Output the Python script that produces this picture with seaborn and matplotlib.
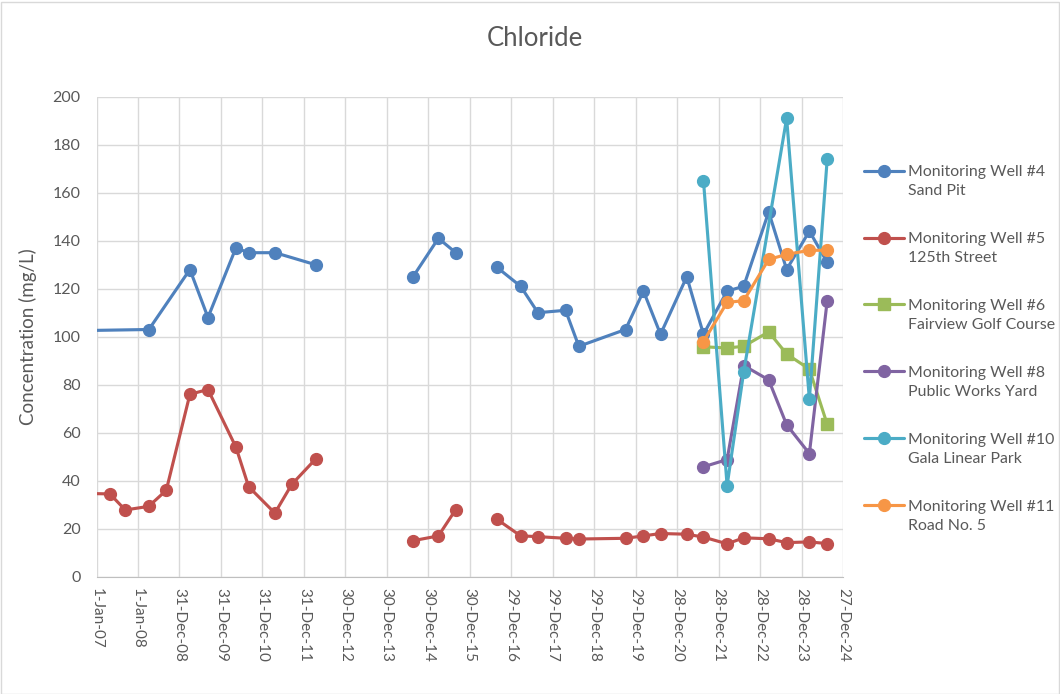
import numpy as np
import pandas as pd
import matplotlib
matplotlib.use('Agg')
import matplotlib.pyplot as plt
from matplotlib.lines import Line2D
from matplotlib.patches import Rectangle
from matplotlib.legend_handler import HandlerLine2D
import seaborn as sns

# ------------------------------------------------ data ------------------------------------------------
# None = gap in the series (line is broken there)
mw4_dates = ['2006-07-01', '2008-04-06', '2009-04-02', '2009-09-08', '2010-05-12', '2010-09-01', '2011-04-22', '2012-04-12',
             None,
             '2014-08-18', '2015-03-29', '2015-08-29',
             None,
             '2016-08-23', '2017-03-22', '2017-08-21', '2018-04-21', '2018-08-16', '2019-10-01', '2020-03-07', '2020-08-04',
             '2021-03-23', '2021-08-17', '2022-03-13', '2022-08-06', '2023-03-14', '2023-08-19', '2024-03-06', '2024-08-10']
mw4_vals = [102.5, 103, 128, 108, 137, 135, 135, 130,
            None,
            125, 141, 135,
            None,
            129, 121, 110, 111, 96, 103, 119, 101,
            125, 101, 119, 121, 152, 128, 144, 131]

mw5_dates = ['2006-09-01', '2007-04-29', '2007-09-11', '2008-04-04', '2008-09-06', '2009-04-02', '2009-09-08', '2010-05-12',
             '2010-09-01', '2011-04-20', '2011-09-16', '2012-04-12',
             None,
             '2014-08-18', '2015-03-29', '2015-08-29',
             None,
             '2016-08-23', '2017-03-22', '2017-08-21', '2018-04-21', '2018-08-16', '2019-10-01', '2020-03-07', '2020-08-04',
             '2021-03-23', '2021-08-17', '2022-03-13', '2022-08-06', '2023-03-14', '2023-08-19', '2024-03-06', '2024-08-10']
mw5_vals = [34.7, 34.5, 27.8, 29.3, 36, 76, 78, 54,
            37.5, 26.5, 38.5, 49,
            None,
            15, 17, 28,
            None,
            24, 17, 16.7, 16, 15.7, 16, 17, 18,
            17.7, 16.5, 13.7, 16.2, 15.8, 14.2, 14.5, 13.8]

recent_dates = ['2021-08-17', '2022-03-13', '2022-08-06', '2023-03-14', '2023-08-19', '2024-03-06', '2024-08-10']
mw6_vals = [95.8, 95.3, 96, 102, 92.8, 86.5, 63.5]
mw8_vals = [45.8, 48.8, 88, 82, 63.3, 51.3, 115]
mw10_dates = ['2021-08-17', '2022-03-13', '2022-08-06', '2023-08-19', '2024-03-06', '2024-08-10']
mw10_vals = [165, 38, 85.3, 191, 74, 174]
mw11_vals = [98, 114.3, 115, 132.2, 134.3, 136, 136]

well_names = ['Monitoring Well #4\nSand Pit',
              'Monitoring Well #5\n125th Street',
              'Monitoring Well #6\nFairview Golf Course',
              'Monitoring Well #8\nPublic Works Yard',
              'Monitoring Well #10\nGala Linear Park',
              'Monitoring Well #11\nRoad No. 5']
well_colors = ['#4F81BD', '#C0504D', '#9BBB59', '#8064A2', '#4BACC6', '#F79646']
well_markers = ['o', 'o', 's', 'o', 'o', 'o']

series = [(mw4_dates, mw4_vals), (mw5_dates, mw5_vals), (recent_dates, mw6_vals),
          (recent_dates, mw8_vals), (mw10_dates, mw10_vals), (recent_dates, mw11_vals)]

# build one long table, with a segment id so gaps stay gaps
frames = []
for name, (d, v) in zip(well_names, series):
    f = pd.DataFrame({'date': pd.to_datetime(pd.Series(d)), 'value': pd.Series(v, dtype=float)})
    f['segment'] = f['value'].isna().cumsum()
    f['well'] = name
    frames.append(f.dropna())
df = pd.concat(frames, ignore_index=True)

# x ticks every 365 days, like the Excel date axis
x_start = pd.Timestamp('2007-01-01')
x_ticks = pd.date_range(x_start, periods=19, freq='365D')

# ------------------------------------------------ plot ------------------------------------------------
sns.set_style('white')
plt.rcParams['font.family'] = ['Lato', 'DejaVu Sans']
text_col = '#595959'
grid_col = '#D9D9D9'

W, H = 1060, 694
fig = plt.figure(figsize=(W / 100, H / 100), dpi=100)
ax = fig.add_axes([96.5 / W, (H - 576.7) / H, (843 - 96.5) / W, (576.7 - 96.7) / H])

for name, color, mk in zip(well_names, well_colors, well_markers):
    sub = df[df['well'] == name]
    sns.lineplot(data=sub, x='date', y='value', units='segment', estimator=None,
                 color=color, marker=mk, markersize=8.5 if mk == 'o' else 8,
                 markeredgecolor=color, markeredgewidth=1, linewidth=2.25,
                 ax=ax, legend=False, sort=False)

ax.set_xlim(x_ticks[0], x_ticks[-1])
ax.set_ylim(0, 200)
ax.set_yticks(np.arange(0, 201, 20))
ax.set_xticks(x_ticks)
ax.set_xticklabels([t.strftime('%d-%b-%y').lstrip('0') for t in x_ticks], rotation=-90,
                   ha='center', va='top')
ax.grid(True, color=grid_col, linewidth=1)
ax.set_axisbelow(True)
for s in ['top', 'right', 'left']:
    ax.spines[s].set_visible(False)
ax.spines['bottom'].set_color('#BFBFBF')
ax.tick_params(axis='x', colors=text_col, labelsize=11, length=4, color='#BFBFBF', pad=4)
ax.tick_params(axis='y', colors=text_col, labelsize=11.5, length=0, pad=11.5)
ax.set_xlabel('')
ax.set_ylabel('Concentration (mg/L)', color=text_col, fontsize=13.5, labelpad=11)

fig.text(535 / W, 1 - 38 / H, 'Chloride', ha='center', va='center', fontsize=18.5, color=text_col)


# legend marker sits on the first line of each two-line label
class FirstLineHandler(HandlerLine2D):
    def create_artists(self, legend, orig_handle, xdescent, ydescent, width, height, fontsize, trans):
        return super().create_artists(legend, orig_handle, xdescent, ydescent - 2 * 8.1,
                                      width, height, fontsize, trans)


handles = [Line2D([0], [0], color=c, marker=m, linewidth=2.25, markersize=8.5 if m == 'o' else 8,
                  markeredgecolor=c) for c, m in zip(well_colors, well_markers)]
leg = fig.legend(handles, well_names, loc='upper left', bbox_to_anchor=(858 / W, 1 - 159 / H),
                 frameon=False, fontsize=11.4, labelcolor=text_col, handlelength=2.5,
                 handletextpad=0.25, labelspacing=2.15, borderaxespad=0,
                 handler_map={Line2D: FirstLineHandler()})
for t in leg.get_texts():
    t.set_linespacing(1.45)

fig.add_artist(Rectangle((0.5 / W, 0.5 / H), (W - 2) / W, (H - 2) / H, transform=fig.transFigure,
                         fill=False, edgecolor=grid_col, linewidth=1))

fig.savefig('out.png', dpi=100)
